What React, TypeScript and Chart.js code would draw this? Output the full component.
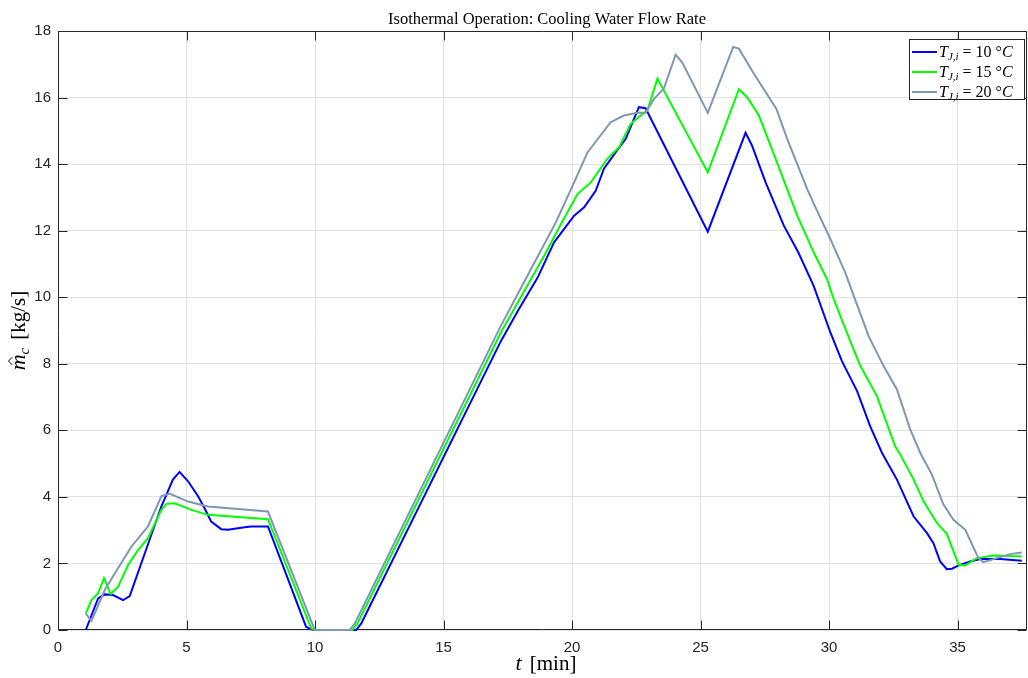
import React, { useEffect, useRef } from "react";
import { Chart, registerables } from "chart.js";
Chart.register(...registerables);

// ---- Data ----
const seriesLabels = ["10", "15", "20"];
const seriesColors = ["#0000ff", "#00ff00", "#7f97b2"];

const t10 = [1.08, 1.56, 1.82, 2.14, 2.53, 2.79, 4.02, 4.47, 4.73, 5.06, 5.45, 5.7, 5.96, 6.35, 6.61, 7.26, 7.52, 8.17, 9.65, 9.85, 10.0, 11.6, 11.8, 17.23, 17.9, 18.66, 19.3, 20.08, 20.47, 20.92, 21.24, 21.7, 22.09, 22.6, 22.86, 25.28, 26.75, 27.0, 27.53, 28.24, 28.8, 29.4, 30.05, 30.5, 31.09, 31.6, 32.06, 32.64, 33.29, 33.81, 34.06, 34.32, 34.58, 34.78, 35.04, 35.49, 35.88, 36.66, 37.5];
const m10 = [0, 0.95, 1.07, 1.05, 0.9, 1.02, 3.71, 4.52, 4.75, 4.47, 4.02, 3.66, 3.26, 3.03, 3.01, 3.09, 3.11, 3.11, 0.1, 0.02, 0, 0, 0.2, 8.68, 9.6, 10.59, 11.65, 12.45, 12.7, 13.2, 13.86, 14.36, 14.76, 15.71, 15.68, 11.97, 14.94, 14.56, 13.45, 12.15, 11.35, 10.34, 8.94, 8.08, 7.18, 6.12, 5.32, 4.52, 3.41, 2.91, 2.61, 2.06, 1.83, 1.84, 1.94, 2.06, 2.13, 2.13, 2.08];

const t15 = [1.08, 1.3, 1.56, 1.79, 2.05, 2.34, 2.73, 3.12, 3.5, 4.02, 4.22, 4.54, 5.19, 5.83, 8.17, 9.85, 10.0, 11.45, 11.65, 17.23, 18.91, 19.5, 20.21, 20.73, 21.37, 21.83, 22.28, 22.67, 22.93, 23.32, 25.28, 26.49, 26.81, 27.27, 27.92, 28.76, 29.4, 29.92, 30.18, 30.9, 31.22, 31.86, 32.57, 32.77, 33.29, 33.68, 34.2, 34.58, 35.04, 35.3, 35.75, 36.4, 37.5];
const m15 = [0.5, 0.9, 1.1, 1.56, 1.08, 1.3, 1.96, 2.41, 2.76, 3.61, 3.79, 3.81, 3.61, 3.46, 3.33, 0.05, 0, 0, 0.2, 8.94, 11.24, 12.1, 13.1, 13.45, 14.16, 14.51, 15.21, 15.46, 15.61, 16.57, 13.75, 16.25, 16.01, 15.46, 14.16, 12.45, 11.35, 10.54, 9.94, 8.53, 7.93, 7.03, 5.52, 5.27, 4.52, 3.86, 3.21, 2.89, 1.96, 1.94, 2.16, 2.24, 2.21];

const t20 = [1.08, 1.3, 1.82, 2.34, 2.86, 3.5, 4.02, 4.34, 5.06, 5.83, 8.17, 9.98, 10.1, 11.35, 11.55, 17.23, 18.3, 19.37, 20.08, 20.6, 21.5, 22.02, 22.54, 22.86, 23.19, 23.57, 24.03, 24.29, 25.28, 26.27, 26.49, 27.07, 27.95, 28.37, 29.15, 29.47, 30.05, 30.63, 30.96, 31.54, 32.12, 32.64, 33.16, 33.55, 34.0, 34.45, 34.84, 35.3, 35.81, 36.0, 36.4, 37.04, 37.5];
const m20 = [0.5, 0.27, 1.2, 1.86, 2.51, 3.11, 4.02, 4.1, 3.86, 3.71, 3.56, 0.02, 0, 0, 0.2, 9.14, 10.7, 12.25, 13.45, 14.35, 15.26, 15.46, 15.54, 15.54, 15.96, 16.27, 17.29, 17.05, 15.54, 17.52, 17.47, 16.72, 15.66, 14.76, 13.25, 12.7, 11.75, 10.74, 10.04, 8.83, 7.93, 7.23, 6.02, 5.32, 4.67, 3.77, 3.31, 3.01, 2.16, 2.04, 2.13, 2.28, 2.33];

const xMin = 0;
const xMax = 37.7;
const xStep = 5;
const yMin = 0;
const yMax = 18;
const yStep = 2;

const titleText = "Isothermal Operation: Cooling Water Flow Rate";

const toPoints = (xs: number[], ys: number[]) => xs.map((x, i) => ({ x, y: ys[i] }));

const AXIS = "#262626";
const SERIF = '"Liberation Serif", "DejaVu Serif", serif';
const SANS = '"Liberation Sans", Arial, sans-serif';

const decorPlugin = {
  id: "decor",
  beforeDatasetsDraw(chart: any) {
    const ctx = chart.ctx as CanvasRenderingContext2D;
    const { left, right, top, bottom } = chart.chartArea;
    const xs = chart.scales.x;
    const ys = chart.scales.y;
    ctx.save();
    ctx.strokeStyle = AXIS;
    ctx.lineWidth = 1;
    const L = Math.round(left) + 0.5;
    const R = Math.round(right) - 0.5;
    const T = Math.round(top) + 0.5;
    const B = Math.round(bottom) - 0.5;
    ctx.beginPath();
    ctx.rect(L, T, R - L, B - T);
    ctx.stroke();
    const tl = 9;
    ctx.beginPath();
    xs.ticks.forEach((tk: any) => {
      const px = Math.round(xs.getPixelForValue(tk.value)) + 0.5;
      ctx.moveTo(px, B);
      ctx.lineTo(px, B - tl);
      ctx.moveTo(px, T);
      ctx.lineTo(px, T + tl);
    });
    ys.ticks.forEach((tk: any) => {
      const py = Math.round(ys.getPixelForValue(tk.value)) + 0.5;
      ctx.moveTo(L, py);
      ctx.lineTo(L + tl, py);
      ctx.moveTo(R, py);
      ctx.lineTo(R - tl, py);
    });
    ctx.stroke();
    ctx.restore();
  },
  afterDatasetsDraw(chart: any) {
    const ctx = chart.ctx as CanvasRenderingContext2D;
    ctx.save();
    // Legend
    const lx0 = 909, ly0 = 39, lx1 = 1025, ly1 = 100;
    ctx.fillStyle = "#ffffff";
    ctx.fillRect(lx0, ly0, lx1 - lx0, ly1 - ly0);
    ctx.strokeStyle = AXIS;
    ctx.lineWidth = 1;
    ctx.strokeRect(lx0 + 0.5, ly0 + 0.5, lx1 - lx0 - 1, ly1 - ly0 - 1);
    seriesLabels.forEach((lab, i) => {
      const cy = 52 + i * 20;
      ctx.strokeStyle = seriesColors[i];
      ctx.lineWidth = 2;
      ctx.beginPath();
      ctx.moveTo(912, cy);
      ctx.lineTo(937, cy);
      ctx.stroke();
      ctx.fillStyle = "#000";
      ctx.textBaseline = "alphabetic";
      ctx.textAlign = "left";
      let x = 939;
      const base = cy + 5;
      ctx.font = `italic 16px ${SERIF}`;
      ctx.fillText("T", x, base);
      x += ctx.measureText("T").width;
      ctx.font = `italic 11px ${SERIF}`;
      ctx.fillText("J,i", x, base + 3);
      x += ctx.measureText("J,i").width + 4;
      ctx.font = `16px ${SERIF}`;
      ctx.fillText("=", x, base);
      x += ctx.measureText("=").width + 4;
      const s = `${lab} °`;
      ctx.fillText(s, x, base);
      x += ctx.measureText(s).width;
      ctx.font = `italic 16px ${SERIF}`;
      ctx.fillText("C", x, base);
    });
    ctx.restore();
  },
  afterDraw(chart: any) {
    const ctx = chart.ctx as CanvasRenderingContext2D;
    const { top, bottom } = chart.chartArea;
    ctx.save();
    ctx.fillStyle = "#000";
    // Title
    ctx.font = `16.5px ${SERIF}`;
    ctx.textAlign = "center";
    ctx.textBaseline = "alphabetic";
    ctx.fillText(titleText, 547, 24);

    // X axis title: t [min]
    ctx.textAlign = "left";
    ctx.font = `italic 22px ${SERIF}`;
    const wT = ctx.measureText("t").width;
    ctx.font = `21px ${SERIF}`;
    const wRest = ctx.measureText("[min]").width;
    const gap = 8;
    let x = 546 - (wT + gap + wRest) / 2;
    ctx.font = `italic 22px ${SERIF}`;
    ctx.fillText("t", x, 670);
    x += wT + gap;
    ctx.font = `21px ${SERIF}`;
    ctx.fillText("[min]", x, 670);

    // Y axis title: m̂_c [kg/s]
    const cy = (top + bottom) / 2;
    ctx.translate(25, cy);
    ctx.rotate(-Math.PI / 2);
    ctx.font = `italic 22px ${SERIF}`;
    const wm = ctx.measureText("m").width;
    ctx.font = `italic 15px ${SERIF}`;
    const wc = ctx.measureText("c").width;
    ctx.font = `21px ${SERIF}`;
    const wu = ctx.measureText("[kg/s]").width;
    const g2 = 8;
    const total = wm + wc + g2 + wu;
    let px = -total / 2;
    ctx.font = `italic 22px ${SERIF}`;
    ctx.fillText("m", px, 0);
    // hat
    ctx.strokeStyle = "#000";
    ctx.lineWidth = 1;
    ctx.beginPath();
    ctx.moveTo(px + wm * 0.35, -13);
    ctx.lineTo(px + wm * 0.58, -16.5);
    ctx.lineTo(px + wm * 0.81, -13);
    ctx.stroke();
    px += wm;
    ctx.font = `italic 15px ${SERIF}`;
    ctx.fillText("c", px, 4);
    px += wc + g2;
    ctx.font = `21px ${SERIF}`;
    ctx.fillText("[kg/s]", px, 0);
    ctx.restore();
  },
};

export default function App() {
  const ref = useRef<HTMLCanvasElement>(null);
  useEffect(() => {
    document.body.style.margin = "0";
    const datasets = [
      toPoints(t10, m10),
      toPoints(t15, m15),
      toPoints(t20, m20),
    ].map((d, i) => ({
      label: seriesLabels[i],
      data: d,
      borderColor: seriesColors[i],
      backgroundColor: seriesColors[i],
      borderWidth: 2,
      pointRadius: 0,
      tension: 0,
      fill: false,
      clip: 2,
      order: 2 - i,
    }));
    const chart = new Chart(ref.current!, {
      type: "line",
      data: { datasets },
      options: {
        animation: false,
        responsive: false,
        devicePixelRatio: 1,
        layout: { padding: { top: 31, right: 1, left: 0, bottom: 0 } },
        plugins: {
          legend: { display: false },
          title: { display: false },
          tooltip: { enabled: false },
        },
        scales: {
          x: {
            type: "linear",
            min: xMin,
            max: xMax,
            ticks: {
              stepSize: xStep,
              includeBounds: false,
              color: AXIS,
              font: { family: SANS, size: 15 },
              padding: 9,
              maxRotation: 0,
            },
            grid: { color: "#e2e2e2", drawTicks: false, lineWidth: 1 },
            border: { display: false },
            afterFit: (s: any) => {
              s.height = 48;
            },
          },
          y: {
            type: "linear",
            min: yMin,
            max: yMax,
            ticks: {
              stepSize: yStep,
              color: AXIS,
              font: { family: SANS, size: 15 },
              padding: 7,
            },
            grid: { color: "#e2e2e2", drawTicks: false, lineWidth: 1 },
            border: { display: false },
            afterFit: (s: any) => {
              s.width = 58;
            },
          },
        },
      } as any,
      plugins: [decorPlugin],
    });
    return () => chart.destroy();
  }, []);
  return (
    <div style={{ position: "absolute", left: 0, top: 0, width: 1028, height: 678, background: "#fff" }}>
      <canvas ref={ref} width={1028} height={678} style={{ display: "block", width: 1028, height: 678 }} />
    </div>
  );
}
